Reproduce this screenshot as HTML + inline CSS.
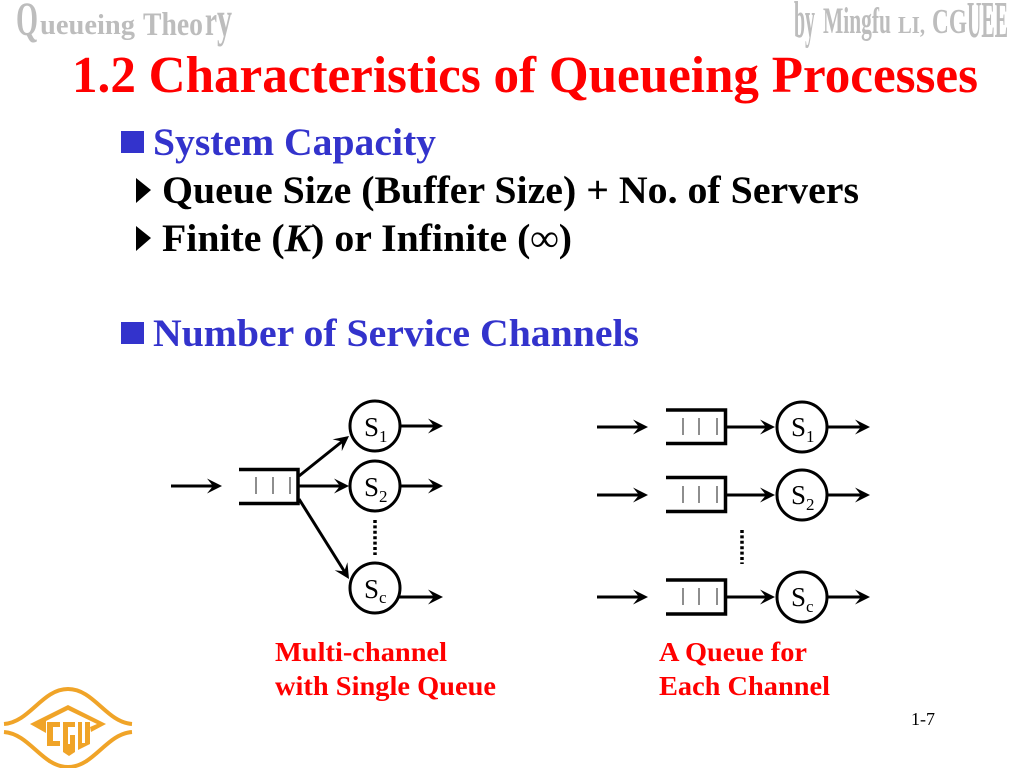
<!DOCTYPE html>
<html><head><meta charset="utf-8"><style>
html,body{margin:0;padding:0;background:#fff;width:1024px;height:768px;overflow:hidden}
svg{display:block}
text{font-family:"Liberation Serif",serif}
.b{font-weight:bold}
</style></head><body>
<svg width="1024" height="768" viewBox="0 0 1024 768" xmlns="http://www.w3.org/2000/svg">
<defs>
<path id="hd" d="M0,0 L-15,-7.500 L-9,0 L-15,7.500Z" fill="#000" stroke="none"/>
</defs>
<!-- headers -->
<g class="b" fill="#bdbdbd">
<text x="16" y="35" font-size="48" textLength="22" lengthAdjust="spacingAndGlyphs">Q</text>
<text x="40" y="34" font-size="28" textLength="95" lengthAdjust="spacingAndGlyphs">ueueing</text>
<text x="143" y="35" font-size="33" textLength="60" lengthAdjust="spacingAndGlyphs">Theo</text>
<text x="205" y="35" font-size="42" textLength="12" lengthAdjust="spacingAndGlyphs">r</text>
<text x="217" y="36" font-size="50" textLength="15" lengthAdjust="spacingAndGlyphs">y</text>
<text x="794" y="37" font-size="52" textLength="21" lengthAdjust="spacingAndGlyphs">by</text>
<text x="823" y="33" font-size="37" textLength="68" lengthAdjust="spacingAndGlyphs">Mingfu</text>
<text x="898" y="33" font-size="24" textLength="27" lengthAdjust="spacingAndGlyphs">LI,</text>
<text x="932" y="33" font-size="35" textLength="35" lengthAdjust="spacingAndGlyphs">CG</text>
<text x="967" y="37" font-size="52" textLength="41" lengthAdjust="spacingAndGlyphs">UEE</text>
</g>
<!-- title -->
<text x="72" y="92" font-size="52" class="b" fill="#ff0000" textLength="906" lengthAdjust="spacingAndGlyphs">1.2 Characteristics of Queueing Processes</text>
<!-- bullets -->
<rect x="121" y="131" width="23" height="22" fill="#3333cc"/>
<text x="153" y="155" font-size="39" class="b" fill="#3333cc" textLength="283" lengthAdjust="spacingAndGlyphs">System Capacity</text>
<path d="M136,178 L151,190 L136,203Z" fill="#000"/>
<text x="162" y="203" font-size="39" class="b" fill="#000" textLength="697" lengthAdjust="spacingAndGlyphs">Queue Size (Buffer Size) + No. of Servers</text>
<path d="M136,226 L151,238 L136,251Z" fill="#000"/>
<text x="162" y="251" font-size="39" class="b" fill="#000" textLength="410" lengthAdjust="spacingAndGlyphs">Finite (<tspan font-style="italic">K</tspan>) or Infinite (∞)</text>
<rect x="121" y="322" width="23" height="22" fill="#3333cc"/>
<text x="153" y="346" font-size="39" class="b" fill="#3333cc" textLength="486" lengthAdjust="spacingAndGlyphs">Number of Service Channels</text>

<g fill="none" stroke="#000" stroke-width="3">
<!-- left diagram -->
<line x1="171" y1="486" x2="216" y2="486"/><use href="#hd" x="222" y="486"/>
<path d="M239,469.500 H298 V503.500 H239" stroke-width="3.500"/>
<g stroke-width="1.200" stroke="#444"><path d="M256,477V494M273,477V494M290,477V494"/></g>
<line x1="299" y1="476" x2="344" y2="440"/>
<use href="#hd" transform="translate(349,436) rotate(-38)"/>
<line x1="299" y1="486" x2="344" y2="486"/><use href="#hd" x="349" y="486"/>
<line x1="299" y1="499" x2="346" y2="574"/>
<use href="#hd" transform="translate(349,579) rotate(58)"/>
<circle cx="375" cy="426" r="25"/><circle cx="375" cy="486" r="25"/><circle cx="375" cy="588" r="25"/>
<line x1="400" y1="426" x2="438" y2="426"/><use href="#hd" x="443" y="426"/>
<line x1="400" y1="486" x2="438" y2="486"/><use href="#hd" x="443" y="486"/>
<line x1="399" y1="597" x2="438" y2="597"/><use href="#hd" x="443" y="597"/>
<line x1="375" y1="520" x2="375" y2="555" stroke-width="3.500" stroke-dasharray="3 2.400"/>
<!-- right diagram -->
<line x1="597" y1="427" x2="643" y2="427"/><use href="#hd" x="648" y="427"/>
<line x1="597" y1="495" x2="643" y2="495"/><use href="#hd" x="648" y="495"/>
<line x1="597" y1="597" x2="643" y2="597"/><use href="#hd" x="648" y="597"/>
<path d="M666,410 H725.500 V443.500 H666" stroke-width="3.500"/>
<path d="M666,477.500 H725.500 V511.500 H666" stroke-width="3.500"/>
<path d="M666,580 H725.500 V614 H666" stroke-width="3.500"/>
<g stroke-width="1.200" stroke="#444"><path d="M683,418V435M699,418V435M717,418V435M683,486V503M699,486V503M717,486V503M683,588V605M699,588V605M717,588V605"/></g>
<line x1="727" y1="427" x2="770" y2="427"/><use href="#hd" x="775" y="427"/>
<line x1="727" y1="495" x2="770" y2="495"/><use href="#hd" x="775" y="495"/>
<line x1="727" y1="597" x2="770" y2="597"/><use href="#hd" x="775" y="597"/>
<circle cx="802" cy="427" r="25"/><circle cx="802" cy="495" r="25"/><circle cx="802" cy="597" r="25"/>
<line x1="828" y1="427" x2="865" y2="427"/><use href="#hd" x="870" y="427"/>
<line x1="828" y1="495" x2="865" y2="495"/><use href="#hd" x="870" y="495"/>
<line x1="828" y1="597" x2="865" y2="597"/><use href="#hd" x="870" y="597"/>
<line x1="742" y1="530" x2="742" y2="564" stroke-width="3.500" stroke-dasharray="3 2.400"/>
</g>
<!-- node labels -->
<g fill="#000" font-size="27">
<text x="364" y="436">S</text><text x="364" y="496">S</text><text x="364" y="598">S</text>
<text x="791" y="436">S</text><text x="791" y="504">S</text><text x="791" y="606">S</text>
</g>
<g fill="#000" font-size="17">
<text x="379" y="442">1</text><text x="379" y="502">2</text><text x="379" y="603">c</text>
<text x="806" y="442">1</text><text x="806" y="510">2</text><text x="806" y="612">c</text>
</g>
<!-- captions -->
<g class="b" fill="#ff0000" font-size="27.500">
<text x="275" y="661" textLength="172" lengthAdjust="spacingAndGlyphs">Multi-channel</text>
<text x="275" y="695" textLength="221" lengthAdjust="spacingAndGlyphs">with Single Queue</text>
<text x="659" y="661" textLength="148" lengthAdjust="spacingAndGlyphs">A Queue for</text>
<text x="659" y="695" textLength="171" lengthAdjust="spacingAndGlyphs">Each Channel</text>
</g>
<text x="911" y="725" font-size="18" fill="#000">1-7</text>
<!-- logo -->
<g fill="none" stroke="#f0a428" stroke-width="4">
<path d="M4,724 C30,722 42,689 68,689 C94,689 106,722 132,724"/>
<path d="M4,732 C30,734 42,767 68,767 C94,767 106,734 132,732"/>
</g>
<g fill="#f0a428">
<path d="M30,724 L68,705 L106,724 L91,732 L90,727 L97,724 L68,710 L46,721 L46,733Z"/>
<path d="M47,722 H60 V727 H53 V741 H60 V746 H47Z"/>
<path d="M63,722 H75 V727 H68 V744 H70 V735 H75 V752 L69,756 L63,752Z"/>
<path d="M78,722 H82 V743 H85 V722 H90 V744 L78,750Z"/>
</g>
</svg>
</body></html>
